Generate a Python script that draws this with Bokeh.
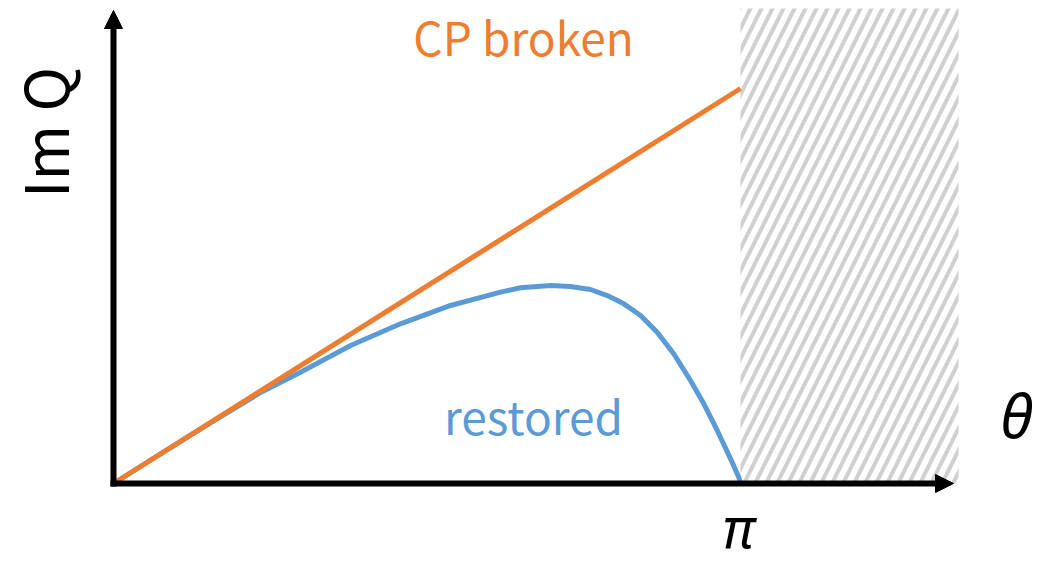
import numpy as np
from bokeh.plotting import figure
from bokeh.models import Arrow, NormalHead, Label
from bokeh.embed import file_html
from bokeh.resources import INLINE

# theta values and Im Q of the two phases
theta_cp = [0.0, np.pi]
imq_cp = [0.0, np.pi]

theta_restored = [0.0, 0.236, 0.486, 0.737, 0.937, 1.188, 1.438, 1.689, 1.939,
                  2.039, 2.190, 2.290, 2.390, 2.474, 2.557, 2.641,
                  2.724, 2.807, 2.891, 2.958, 3.025, 3.092, 3.133, np.pi]
imq_restored = [0.0, 0.235, 0.483, 0.724, 0.885, 1.098, 1.270, 1.416, 1.522,
                1.557, 1.575, 1.567, 1.543, 1.495, 1.429, 1.336,
                1.203, 1.032, 0.819, 0.634, 0.422, 0.196, 0.050, 0.0]

# region beyond theta = pi (hatched)
shade_x = [np.pi, 4.234]
shade_y = [0.0, 3.778]

W, H = 1054, 566
X0_PX, Y0_PX = 113, 483          # screen position of the origin
SX = np.pi / 627                 # data units per pixel, horizontal
SY = np.pi / 395                 # data units per pixel, vertical


def dx(px):
    return (px - X0_PX) * SX


def dy(py):
    return (Y0_PX - py) * SY


p = figure(width=W, height=H, output_backend="svg", toolbar_location=None,
           x_range=(dx(0), dx(W)), y_range=(dy(H), dy(0)),
           x_axis_location=None, y_axis_location=None,
           min_border=0, outline_line_color=None)
p.xgrid.visible = False
p.ygrid.visible = False
p.background_fill_color = "white"
p.border_fill_color = "white"

# hatched band
p.quad(left=shade_x[0], right=shade_x[1], bottom=shade_y[0], top=shade_y[1],
       fill_color=None, line_color=None,
       hatch_pattern="/", hatch_color="#d0d0d0", hatch_weight=4, hatch_scale=22)

# curves
p.line(theta_restored, imq_restored, line_color="#5B9BD5", line_width=5,
       line_join="round", line_cap="round")
p.line(theta_cp, imq_cp, line_color="#ED7D31", line_width=5)

# axes drawn as arrows
p.add_layout(Arrow(end=NormalHead(size=18, fill_color="black", line_color="black", line_width=1),
                   x_start=dx(110), y_start=0.0, x_end=dx(953), y_end=0.0,
                   line_width=6, line_color="black"))
p.add_layout(Arrow(end=NormalHead(size=18, fill_color="black", line_color="black", line_width=1),
                   x_start=0.0, y_start=dy(486), x_end=0.0, y_end=dy(10),
                   line_width=6, line_color="black"))

# labels
p.add_layout(Label(x=dx(523), y=dy(35), text="CP broken", text_align="center",
                   text_baseline="alphabetic", text_color="#ED7D31",
                   text_font="Noto Sans CJK JP", text_font_size="46px"))
p.add_layout(Label(x=dx(533), y=dy(414), text="restored", text_align="center",
                   text_baseline="alphabetic", text_color="#5B9BD5",
                   text_font="Noto Sans CJK JP", text_font_size="46px"))
p.add_layout(Label(x=dx(42), y=dy(132), text="Im Q", text_align="center",
                   text_baseline="alphabetic", angle=np.pi / 2, text_color="black",
                   text_font="Noto Sans CJK JP", text_font_size="60px"))
p.add_layout(Label(x=dx(1016), y=dy(414), text="θ", text_align="center",
                   text_baseline="alphabetic", text_color="black",
                   text_font="Noto Sans", text_font_style="italic", text_font_size="60px"))
p.add_layout(Label(x=dx(738), y=dy(563), text="π", text_align="center",
                   text_baseline="bottom", text_color="black",
                   text_font="Noto Sans", text_font_style="italic", text_font_size="54px"))

open("out.html", "w").write(file_html(p, INLINE))
